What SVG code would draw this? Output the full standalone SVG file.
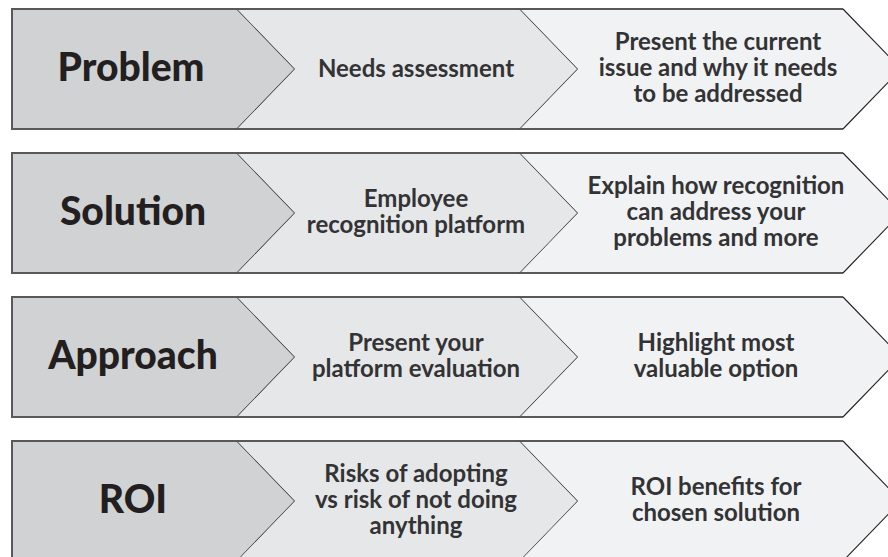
<svg xmlns="http://www.w3.org/2000/svg" width="888" height="557" viewBox="0 0 888 557">
<defs>
<style>
.c1{fill:#d1d2d4}
.c2{fill:#e6e7e8}
.c3{fill:#f1f2f3}
.edge{fill:none;stroke:#58595b;stroke-width:2}
.diag{fill:none;stroke:#231f20;stroke-width:1.1}
.title{font-family:Lato,"Liberation Sans",sans-serif;font-weight:900;font-size:39px;fill:#231f20;text-anchor:middle}
.body{font-family:Lato,"Liberation Sans",sans-serif;font-weight:700;font-size:24px;fill:#333335;text-anchor:middle}
</style>
</defs>
<rect width="888" height="557" fill="#ffffff"/>

<!-- Row 1 -->
<g id="problem">
<polygon class="c1" points="12,9 237,9 295,69 237,129 12,129"/>
<path class="edge" d="M12,9 H237 M12,129 H237 M12,8 V130"/>
<path class="diag" d="M237,9 L295,69 L237,129"/>
<text class="title" x="131" y="81">Problem</text>
</g>
<g id="needs-assessment">
<polygon class="c2" points="237,9 520,9 578,69 520,129 237,129 295,69"/>
<path class="edge" d="M237,9 H520 M237,129 H520"/>
<path class="diag" d="M520,9 L578,69 L520,129"/>
<text class="body" x="416" y="77">Needs assessment</text>
</g>
<g id="present-issue">
<polygon class="c3" points="520,9 843,9 901,69 843,129 520,129 578,69"/>
<path class="edge" d="M520,9 H843 M520,129 H843"/>
<path class="diag" d="M843,9 L901,69 L843,129"/>
<text class="body" x="718"><tspan x="718" y="50">Present the current</tspan><tspan x="718" y="76">issue and why it needs</tspan><tspan x="718" y="102">to be addressed</tspan></text>
</g>

<!-- Row 2 -->
<g id="solution">
<polygon class="c1" points="12,153 237,153 295,213 237,273 12,273"/>
<path class="edge" d="M12,153 H237 M12,273 H237 M12,152 V274"/>
<path class="diag" d="M237,153 L295,213 L237,273"/>
<text class="title" x="133" y="225">Solution</text>
</g>
<g id="employee-recognition">
<polygon class="c2" points="237,153 520,153 578,213 520,273 237,273 295,213"/>
<path class="edge" d="M237,153 H520 M237,273 H520"/>
<path class="diag" d="M520,153 L578,213 L520,273"/>
<text class="body" x="416"><tspan x="416" y="207">Employee</tspan><tspan x="416" y="233">recognition platform</tspan></text>
</g>
<g id="explain-recognition">
<polygon class="c3" points="520,153 843,153 901,213 843,273 520,273 578,213"/>
<path class="edge" d="M520,153 H843 M520,273 H843"/>
<path class="diag" d="M843,153 L901,213 L843,273"/>
<text class="body" x="716"><tspan x="716" y="194">Explain how recognition</tspan><tspan x="716" y="220">can address your</tspan><tspan x="716" y="246">problems and more</tspan></text>
</g>

<!-- Row 3 -->
<g id="approach">
<polygon class="c1" points="12,297 237,297 295,357 237,417 12,417"/>
<path class="edge" d="M12,297 H237 M12,417 H237 M12,296 V418"/>
<path class="diag" d="M237,297 L295,357 L237,417"/>
<text class="title" x="133" y="369">Approach</text>
</g>
<g id="platform-evaluation">
<polygon class="c2" points="237,297 520,297 578,357 520,417 237,417 295,357"/>
<path class="edge" d="M237,297 H520 M237,417 H520"/>
<path class="diag" d="M520,297 L578,357 L520,417"/>
<text class="body" x="416"><tspan x="416" y="351">Present your</tspan><tspan x="416" y="377">platform evaluation</tspan></text>
</g>
<g id="valuable-option">
<polygon class="c3" points="520,297 843,297 901,357 843,417 520,417 578,357"/>
<path class="edge" d="M520,297 H843 M520,417 H843"/>
<path class="diag" d="M843,297 L901,357 L843,417"/>
<text class="body" x="716"><tspan x="716" y="351">Highlight most</tspan><tspan x="716" y="377">valuable option</tspan></text>
</g>

<!-- Row 4 -->
<g id="roi">
<polygon class="c1" points="12,441 237,441 295,501 237,561 12,561"/>
<path class="edge" d="M12,441 H237 M12,440 V562"/>
<path class="diag" d="M237,441 L295,501 L237,561"/>
<text class="title" x="133" y="513">ROI</text>
</g>
<g id="risks">
<polygon class="c2" points="237,441 520,441 578,501 520,561 237,561 295,501"/>
<path class="edge" d="M237,441 H520"/>
<path class="diag" d="M520,441 L578,501 L520,561"/>
<text class="body" x="416"><tspan x="416" y="482">Risks of adopting</tspan><tspan x="416" y="508">vs risk of not doing</tspan><tspan x="416" y="534">anything</tspan></text>
</g>
<g id="roi-benefits">
<polygon class="c3" points="520,441 843,441 901,501 843,561 520,561 578,501"/>
<path class="edge" d="M520,441 H843"/>
<path class="diag" d="M843,441 L901,501 L843,561"/>
<text class="body" x="716"><tspan x="716" y="495">ROI benefits for</tspan><tspan x="716" y="521">chosen solution</tspan></text>
</g>

<g id="connectors"/>
</svg>
